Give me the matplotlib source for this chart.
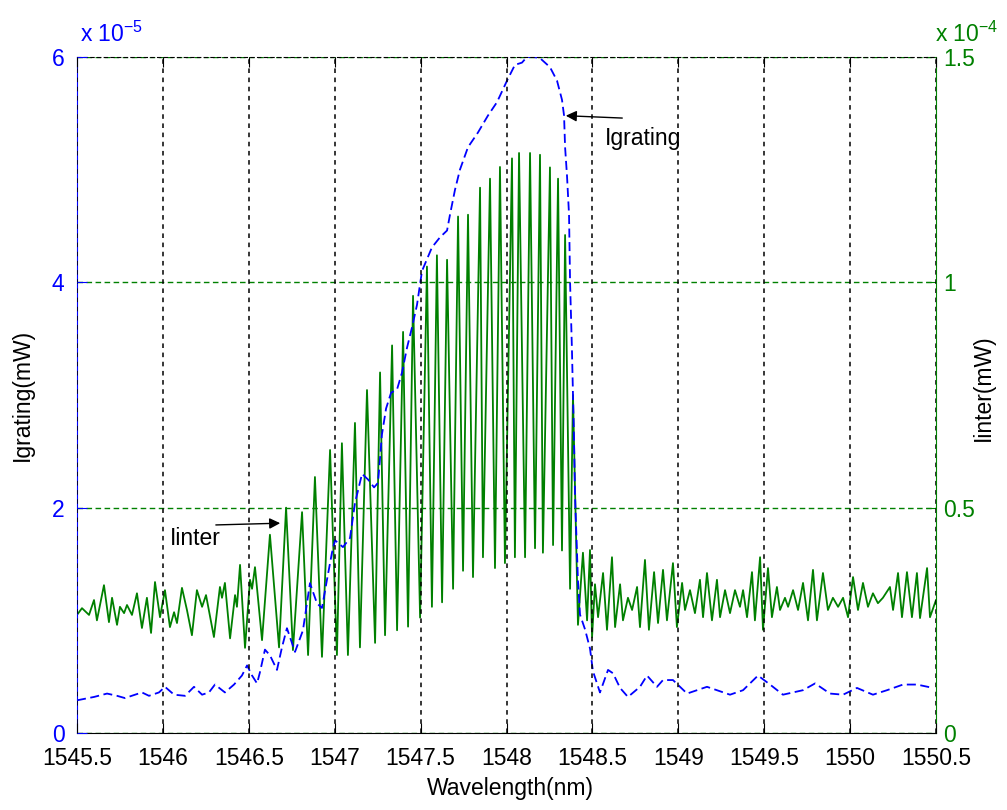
import matplotlib.pyplot as plt
import numpy as np

plt.rcParams['font.family'] = ['Liberation Sans', 'DejaVu Sans']
plt.rcParams['mathtext.fontset'] = 'custom'
plt.rcParams['mathtext.rm'] = 'Liberation Sans'

# grating reflection (units of 1e-5 mW)
wl_grating = [
    1545.500, 1545.599, 1545.675, 1545.733, 1545.779, 1545.838, 1545.878, 1545.919,
    1545.977, 1546.012, 1546.065, 1546.129, 1546.181, 1546.228, 1546.268, 1546.303,
    1546.361, 1546.414, 1546.460, 1546.490, 1546.519, 1546.548, 1546.565, 1546.594,
    1546.623, 1546.664, 1546.693, 1546.722, 1546.769, 1546.815, 1546.856, 1546.897,
    1546.926, 1546.955, 1546.984, 1547.002, 1547.048, 1547.089, 1547.118, 1547.159,
    1547.194, 1547.229, 1547.252, 1547.275, 1547.299, 1547.328, 1547.363, 1547.392,
    1547.421, 1547.450, 1547.479, 1547.508, 1547.566, 1547.613, 1547.654, 1547.671,
    1547.700, 1547.729, 1547.776, 1547.834, 1547.892, 1547.945, 1548.003, 1548.049,
    1548.090, 1548.119, 1548.154, 1548.195, 1548.253, 1548.294, 1548.323, 1548.335,
    1548.341, 1548.352, 1548.364, 1548.370, 1548.381, 1548.393, 1548.399, 1548.416,
    1548.428, 1548.457, 1548.486, 1548.503, 1548.544, 1548.591, 1548.620, 1548.661,
    1548.707, 1548.777, 1548.818, 1548.876, 1548.911, 1548.969, 1549.051, 1549.167,
    1549.301, 1549.377, 1549.464, 1549.534, 1549.609, 1549.726, 1549.796, 1549.883,
    1549.959, 1550.040, 1550.133, 1550.215, 1550.308, 1550.389, 1550.483,
]
i_grating = [
    0.29, 0.32, 0.35, 0.33, 0.31, 0.34, 0.36, 0.33,
    0.36, 0.41, 0.34, 0.33, 0.41, 0.34, 0.36, 0.43,
    0.36, 0.43, 0.51, 0.60, 0.51, 0.44, 0.54, 0.74,
    0.69, 0.56, 0.76, 0.93, 0.72, 0.91, 1.33, 1.15,
    1.11, 1.36, 1.60, 1.71, 1.65, 1.73, 2.04, 2.30,
    2.25, 2.18, 2.22, 2.65, 2.88, 3.02, 3.05, 3.20,
    3.42, 3.60, 3.80, 4.10, 4.31, 4.40, 4.46, 4.60,
    4.82, 5.00, 5.20, 5.33, 5.48, 5.60, 5.79, 5.93,
    5.95, 6.00, 6.00, 5.99, 5.91, 5.79, 5.62, 5.48,
    5.20, 4.95, 4.60, 4.00, 3.40, 2.60, 2.10, 1.35,
    1.05, 0.92, 0.75, 0.55, 0.36, 0.56, 0.53, 0.40,
    0.32, 0.41, 0.51, 0.41, 0.47, 0.47, 0.35, 0.41,
    0.34, 0.38, 0.51, 0.43, 0.34, 0.38, 0.44, 0.35,
    0.34, 0.40, 0.34, 0.38, 0.43, 0.43, 0.40,
]

# interferometer output (units of 1e-4 mW)
wl_inter = [
    1545.500, 1545.529, 1545.570, 1545.599, 1545.616, 1545.657, 1545.686, 1545.704,
    1545.733, 1545.750, 1545.774, 1545.791, 1545.820, 1545.849, 1545.878, 1545.907,
    1545.931, 1545.954, 1545.983, 1546.012, 1546.041, 1546.065, 1546.082, 1546.111,
    1546.140, 1546.169, 1546.198, 1546.228, 1546.251, 1546.297, 1546.332, 1546.344,
    1546.361, 1546.391, 1546.420, 1546.431, 1546.449, 1546.478, 1546.507, 1546.519,
    1546.536, 1546.577, 1546.623, 1546.676, 1546.717, 1546.757, 1546.810, 1546.845,
    1546.885, 1546.926, 1546.973, 1547.013, 1547.042, 1547.077, 1547.118, 1547.147,
    1547.188, 1547.235, 1547.264, 1547.293, 1547.334, 1547.363, 1547.398, 1547.427,
    1547.456, 1547.497, 1547.537, 1547.566, 1547.595, 1547.625, 1547.654, 1547.689,
    1547.718, 1547.747, 1547.776, 1547.805, 1547.846, 1547.863, 1547.904, 1547.933,
    1547.962, 1547.991, 1548.032, 1548.049, 1548.073, 1548.108, 1548.137, 1548.166,
    1548.195, 1548.212, 1548.253, 1548.271, 1548.300, 1548.323, 1548.341, 1548.370,
    1548.387, 1548.416, 1548.445, 1548.469, 1548.486, 1548.498, 1548.515, 1548.533,
    1548.562, 1548.585, 1548.614, 1548.632, 1548.661, 1548.678, 1548.707, 1548.731,
    1548.760, 1548.777, 1548.806, 1548.829, 1548.859, 1548.882, 1548.911, 1548.934,
    1548.969, 1548.992, 1549.022, 1549.039, 1549.068, 1549.097, 1549.126, 1549.144,
    1549.167, 1549.196, 1549.225, 1549.243, 1549.272, 1549.301, 1549.330, 1549.359,
    1549.377, 1549.400, 1549.429, 1549.446, 1549.476, 1549.493, 1549.522, 1549.545,
    1549.574, 1549.592, 1549.621, 1549.639, 1549.668, 1549.697, 1549.726, 1549.755,
    1549.784, 1549.807, 1549.842, 1549.871, 1549.900, 1549.930, 1549.959, 1549.988,
    1550.017, 1550.046, 1550.075, 1550.104, 1550.133, 1550.162, 1550.191, 1550.232,
    1550.250, 1550.279, 1550.302, 1550.331, 1550.360, 1550.389, 1550.407, 1550.448,
    1550.465, 1550.500,
]
i_inter = [
    0.262, 0.277, 0.262, 0.295, 0.250, 0.328, 0.246, 0.300,
    0.240, 0.280, 0.266, 0.284, 0.262, 0.310, 0.233, 0.300,
    0.222, 0.335, 0.257, 0.317, 0.235, 0.268, 0.244, 0.322,
    0.273, 0.217, 0.317, 0.280, 0.306, 0.213, 0.324, 0.300,
    0.333, 0.210, 0.306, 0.280, 0.373, 0.189, 0.340, 0.320,
    0.368, 0.206, 0.440, 0.190, 0.500, 0.184, 0.490, 0.173,
    0.568, 0.169, 0.628, 0.173, 0.643, 0.173, 0.688, 0.190,
    0.761, 0.200, 0.800, 0.217, 0.860, 0.228, 0.890, 0.236,
    0.970, 0.256, 1.035, 0.280, 1.060, 0.290, 1.050, 0.320,
    1.146, 0.360, 1.150, 0.346, 1.210, 0.390, 1.230, 0.366,
    1.256, 0.377, 1.275, 0.390, 1.287, 0.390, 1.287, 0.410,
    1.283, 0.400, 1.255, 0.417, 1.230, 0.405, 1.105, 0.320,
    0.750, 0.240, 0.400, 0.250, 0.406, 0.213, 0.330, 0.257,
    0.355, 0.229, 0.390, 0.235, 0.330, 0.250, 0.300, 0.273,
    0.324, 0.235, 0.384, 0.229, 0.357, 0.244, 0.362, 0.250,
    0.377, 0.235, 0.333, 0.273, 0.317, 0.266, 0.340, 0.257,
    0.355, 0.250, 0.340, 0.257, 0.317, 0.266, 0.317, 0.280,
    0.317, 0.257, 0.357, 0.250, 0.390, 0.229, 0.366, 0.257,
    0.324, 0.273, 0.300, 0.280, 0.317, 0.273, 0.333, 0.250,
    0.362, 0.250, 0.355, 0.273, 0.300, 0.280, 0.300, 0.257,
    0.346, 0.273, 0.333, 0.280, 0.310, 0.288, 0.300, 0.324,
    0.273, 0.355, 0.257, 0.357, 0.257, 0.355, 0.255, 0.366,
    0.257, 0.295,
]

x_ticks = [1545.5, 1546, 1546.5, 1547, 1547.5, 1548, 1548.5, 1549, 1549.5, 1550, 1550.5]
x_labels = ['1545.5', '1546', '1546.5', '1547', '1547.5', '1548',
            '1548.5', '1549', '1549.5', '1550', '1550.5']
left_ticks = [0, 2, 4, 6]
left_labels = ['0', '2', '4', '6']
right_ticks = [0, 0.5, 1, 1.5]
right_labels = ['0', '0.5', '1', '1.5']

BLUE = '#0000ff'
GREEN = '#008000'
FS = 16.5

fig = plt.figure(figsize=(10.07, 8.10), dpi=100)
ax = fig.add_axes([77 / 1007, 77 / 810, 859 / 1007, 676 / 810])
ax2 = ax.twinx()

ax2.plot(wl_inter, np.array(i_inter) * 1e-4, color=GREEN, lw=1.3)
ax.plot(wl_grating, np.array(i_grating) * 1e-5, color=BLUE, lw=1.3, ls=(0, (5, 2.5)))

# blue axes on top so the dashed curve sits over the fringes
ax.set_zorder(ax2.get_zorder() + 1)
ax.patch.set_visible(False)

ax.set_xlim(1545.5, 1550.5)
ax.set_ylim(0, 6e-5)
ax2.set_ylim(0, 1.5e-4)

ax.set_xticks(x_ticks, x_labels)
ax.set_yticks([t * 1e-5 for t in left_ticks], left_labels)
ax2.set_yticks([t * 1e-4 for t in right_ticks], right_labels)

ax.grid(axis='x', color='k', ls=(0, (3, 3)), lw=1.1)
ax.grid(axis='y', visible=False)
ax2.grid(axis='y', color=GREEN, ls=(0, (4, 2.5)), lw=1.0)
ax.set_axisbelow(False)
ax2.set_axisbelow(False)

ax.spines['right'].set_visible(False)
for s in ['left', 'bottom', 'top']:
    ax2.spines[s].set_visible(False)
ax.spines['left'].set_color(BLUE)
ax.spines['bottom'].set_color('k')
ax.spines['top'].set_color('k')
ax.spines['top'].set_linestyle((0, (3, 3)))
ax2.spines['right'].set_color(GREEN)

ax.tick_params(axis='x', direction='in', length=7, top=True, colors='k',
               labelsize=FS, pad=10)
ax.tick_params(axis='y', direction='in', length=7, colors=BLUE,
               labelsize=FS, pad=9)
ax2.tick_params(axis='y', direction='in', length=7, colors=GREEN,
                labelsize=FS, pad=5)

ax.text(0.004, 1.022, r'x $\mathregular{10^{-5}}$', transform=ax.transAxes,
        color=BLUE, fontsize=FS, ha='left', va='baseline')
ax2.text(0.999, 1.022, r'x $\mathregular{10^{-4}}$', transform=ax2.transAxes,
         color=GREEN, fontsize=FS, ha='left', va='baseline')

fig.text(510 / 1007, 1 - 788 / 810, 'Wavelength(nm)', fontsize=FS,
         ha='center', va='center')
fig.text(22 / 1007, 1 - 395 / 810, 'Igrating(mW)', fontsize=FS,
         rotation=90, ha='center', va='center')
fig.text(983 / 1007, 1 - 388 / 810, 'Iinter(mW)', fontsize=FS,
         rotation=90, ha='center', va='center')

arrow = dict(arrowstyle='-|>', color='k', lw=1.0, mutation_scale=16)
ax.annotate('', xy=(1548.329, 5.48e-5), xytext=(1548.690, 5.457e-5),
            arrowprops=arrow)
ax.text(1548.573, 5.28e-5, 'Igrating', fontsize=FS, ha='left', va='center')
ax.annotate('', xy=(1546.699, 1.863e-5), xytext=(1546.292, 1.846e-5),
            arrowprops=arrow)
ax.text(1546.041, 1.73e-5, 'Iinter', fontsize=FS, ha='left', va='center')

fig.savefig('out.png', dpi=100)
